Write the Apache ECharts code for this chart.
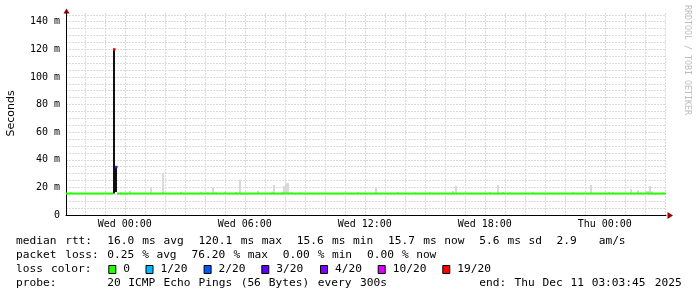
<!DOCTYPE html>
<html><head><meta charset="utf-8">
<script src="https://cdn.jsdelivr.net/npm/echarts@6/dist/echarts.min.js"></script>
<style>html,body{margin:0;padding:0;background:#fff}#c{width:697px;height:297px}</style>
</head><body><div id="c"></div>
<script>
// ---------------- data ----------------
// time axis in hours relative to Wed 00:00 (30 h window ending Thu 03:03:45)
const timeStart = -2.9375;
const timeEnd = 27.0625;
const stepHours = 300 / 3600;
const xTickHours = [0, 6, 12, 18, 24];
const xTickLabels = ['Wed 00:00', 'Wed 06:00', 'Wed 12:00', 'Wed 18:00', 'Thu 00:00'];
const yTickValues = [0, 20, 40, 60, 80, 100, 120, 140];
const yTickLabels = ['0', '20 m', '40 m', '60 m', '80 m', '100 m', '120 m', '140 m'];

const lossCounts = [0, 1, 2, 3, 4, 10, 19];
const lossLabels = ['0', '1/20', '2/20', '3/20', '4/20', '10/20', '19/20'];
const lossColors = ['#26ff00', '#00b8ff', '#0059ff', '#5e00ff', '#7e00ff', '#dd00ff', '#ff0000'];

// median rtt runs: [start hour, end hour, ms, lost pings]
const medianRuns = [
  [-2.9375, -0.5875, 15.6, 0],
  [-0.3875, 27.0625, 15.6, 0]
];
// outage steps: [hour, low ms, median ms, lost pings]
const outageSteps = [
  [-0.54, 15.6, 120.1, 19],
  [-0.455, 16.6, 34.9, 3]
];
// smoke (spread of the 20 pings): [hour, low ms, high ms]
const smoke = [
  [-2.69, 15.4, 16.6], [-0.19, 15.4, 16.5], [0.24, 15.4, 17.6], [1.31, 15.4, 20.0],
  [1.91, 15.4, 30.2], [2.81, 15.4, 16.9], [3.81, 15.4, 16.8], [4.16, 15.4, 16.6],
  [4.41, 15.4, 19.8], [4.54, 15.4, 16.7], [5.01, 15.4, 16.6], [5.56, 15.4, 16.7],
  [5.76, 15.4, 25.8], [6.66, 15.4, 17.6], [7.36, 15.4, 16.8], [7.46, 15.4, 21.7],
  [7.86, 15.4, 16.8], [7.96, 15.4, 21.0], [8.06, 15.4, 23.0], [8.16, 15.4, 23.4],
  [8.29, 15.4, 16.8], [8.76, 15.4, 16.4], [11.66, 15.4, 16.6], [12.56, 15.4, 19.8],
  [13.66, 15.4, 16.6], [14.51, 15.4, 16.4], [15.26, 15.4, 16.4], [16.41, 15.4, 17.4],
  [16.56, 15.4, 21.0], [18.26, 15.4, 16.4], [18.66, 15.4, 21.7], [18.91, 15.4, 16.6],
  [19.26, 15.4, 16.5], [20.41, 15.4, 16.5], [22.41, 15.4, 16.6], [23.31, 15.4, 21.7],
  [24.21, 15.4, 16.6], [24.41, 15.4, 16.4], [25.31, 15.4, 18.8], [25.66, 15.4, 18.0],
  [25.81, 15.4, 16.5], [26.06, 15.4, 17.4], [26.16, 15.4, 17.4], [26.24, 15.4, 21.0],
  [26.36, 15.4, 17.0]
];

const legendLines = [
  'median rtt:  16.0 ms avg  120.1 ms max  15.6 ms min  15.7 ms now  5.6 ms sd  2.9   am/s',
  'packet loss: 0.25 % avg  76.20 % max  0.00 % min  0.00 % now',
  'loss color:',
  'probe:       20 ICMP Echo Pings (56 Bytes) every 300s'
];
const endText = 'end: Thu Dec 11 03:03:45 2025';
const yAxisTitle = 'Seconds';
const watermark = 'RRDTOOL / TOBI OETIKER';

// ---------------- chart ----------------
const lossColor = n => lossColors[Math.max(0, lossCounts.indexOf(n))];
const chart = echarts.init(document.getElementById('c'), null, {renderer: 'canvas'});
const MONO = 'DejaVu Sans Mono';
const LFONT = '11.2px "' + MONO + '"';
const CH = 7.02;      // legend character cell width
const LX = 16;        // legend left
const minorGrid = {show: true, lineStyle: {color: '#dadada', width: 1, type: [2, 1]}, showMinLine: false, showMaxLine: false};
const majorGrid = {show: true, lineStyle: {color: '#efb0b0', width: 1, type: [2, 1]}, showMinLine: false, showMaxLine: false};

const legendBoxX = [108.3, 145.5, 203.6, 261.3, 320, 377.7, 442.3];
const legendY = [241.5, 255.2, 269.3, 283.2];
const graphics = [];
function addCellText(s, col0, y) {
  const re = /\S+/g; let m;
  while ((m = re.exec(s)) !== null) {
    graphics.push({type: 'text', x: LX + (col0 + m.index) * CH, y: y,
      style: {text: m[0], font: LFONT, fill: '#000', verticalAlign: 'middle'}});
  }
}
legendLines.forEach((s, i) => addCellText(s, 0, legendY[i]));
addCellText(endText, 66, legendY[3]);
lossLabels.forEach((lab, i) => {
  graphics.push({type: 'rect', shape: {x: legendBoxX[i] + 0.5, y: 265.5, width: 7, height: 8},
    style: {fill: lossColors[i], stroke: '#000', lineWidth: 1}});
  graphics.push({type: 'text', x: legendBoxX[i] + 15, y: legendY[2],
    style: {text: lab, font: LFONT, fill: '#000', verticalAlign: 'middle'}});
});
graphics.push({type: 'text', x: 11.5, y: 113.5, rotation: Math.PI / 2,
  style: {text: yAxisTitle, font: '11px "DejaVu Sans"', fill: '#000', align: 'center', verticalAlign: 'middle'}});
graphics.push({type: 'text', x: 687, y: 5, rotation: -Math.PI / 2,
  style: {text: watermark, font: '8.3px "' + MONO + '"', fill: '#bdbdbd', align: 'left', verticalAlign: 'middle'}});
graphics.push({type: 'polygon', shape: {points: [[63.5, 13.5], [66.5, 8.5], [69.5, 13.5]]}, style: {fill: '#990000'}});
graphics.push({type: 'polygon', shape: {points: [[667.5, 212], [673, 215.5], [667.5, 219]]}, style: {fill: '#990000'}});

const option = {
  animation: false,
  backgroundColor: '#fff',
  grid: {left: 66, top: 13, width: 600, height: 202, containLabel: false},
  xAxis: [
    {
      type: 'value', position: 'bottom', min: timeStart, max: timeEnd,
      minInterval: 3, maxInterval: 3,
      axisLine: {show: true, onZero: false, lineStyle: {color: '#000', width: 1}},
      axisTick: {show: false},
      splitLine: majorGrid,
      axisLabel: {
        show: true, interval: 0, margin: 4, color: '#000', fontFamily: MONO, fontSize: 10,
        showMinLabel: true, showMaxLabel: true,
        formatter: v => {
          const i = xTickHours.findIndex(h => Math.abs(h - v) < 1e-6);
          return i < 0 ? '' : xTickLabels[i];
        }
      }
    },
    {
      type: 'value', position: 'bottom', min: timeStart, max: timeEnd,
      minInterval: 1, maxInterval: 1,
      axisLine: {show: false}, axisTick: {show: false}, axisLabel: {show: false},
      splitLine: minorGrid
    }
  ],
  yAxis: [
    {
      type: 'value', position: 'left', min: 0, max: 146.3, interval: 20,
      axisLine: {show: true, onZero: false, lineStyle: {color: '#000', width: 1}},
      axisTick: {show: false},
      splitLine: majorGrid,
      axisLabel: {
        show: true, margin: 6, color: '#000', fontFamily: MONO, fontSize: 10,
        formatter: v => {
          const i = yTickValues.findIndex(t => Math.abs(t - v) < 1e-6);
          return i < 0 ? '' : yTickLabels[i];
        }
      }
    },
    {
      type: 'value', position: 'left', min: 0, max: 146.3, interval: 5,
      axisLine: {show: false}, axisTick: {show: false}, axisLabel: {show: false},
      splitLine: minorGrid
    }
  ],
  series: [
    {
      type: 'custom', name: 'smoke', xAxisIndex: 0, yAxisIndex: 0, z: 2,
      data: smoke, encode: {x: 0, y: [1, 2]},
      renderItem: (params, api) => {
        const a = api.coord([api.value(0), api.value(1)]);
        const b = api.coord([api.value(0), api.value(2)]);
        const w = Math.max(2, Math.round(api.size([stepHours, 0])[0]));
        return {type: 'rect', shape: {x: Math.round(a[0] - w / 2), y: b[1], width: w, height: a[1] - b[1]},
          style: {fill: '#d9d9d9'}};
      }
    },
    {
      type: 'custom', name: 'median', xAxisIndex: 0, yAxisIndex: 0, z: 4,
      data: medianRuns, encode: {x: [0, 1], y: 2},
      renderItem: (params, api) => {
        const a = api.coord([api.value(0), api.value(2)]);
        const b = api.coord([api.value(1), api.value(2)]);
        return {type: 'line', shape: {x1: a[0], y1: a[1], x2: b[0], y2: b[1]},
          style: {stroke: lossColor(api.value(3)), lineWidth: 2}};
      }
    },
    {
      type: 'custom', name: 'outage', xAxisIndex: 0, yAxisIndex: 0, z: 5,
      data: outageSteps, encode: {x: 0, y: [1, 2]},
      renderItem: (params, api) => {
        const a = api.coord([api.value(0), api.value(1)]);
        const b = api.coord([api.value(0), api.value(2)]);
        const x = Math.round(a[0] - 1);
        return {type: 'group', children: [
          {type: 'rect', shape: {x: x, y: b[1], width: 2, height: a[1] - b[1]}, style: {fill: '#111'}},
          {type: 'rect', shape: {x: x, y: b[1] - 1, width: 2.5, height: 2.5}, style: {fill: lossColor(api.value(3))}}
        ]};
      }
    }
  ],
  graphic: graphics
};
chart.setOption(option);
</script>
</body></html>
